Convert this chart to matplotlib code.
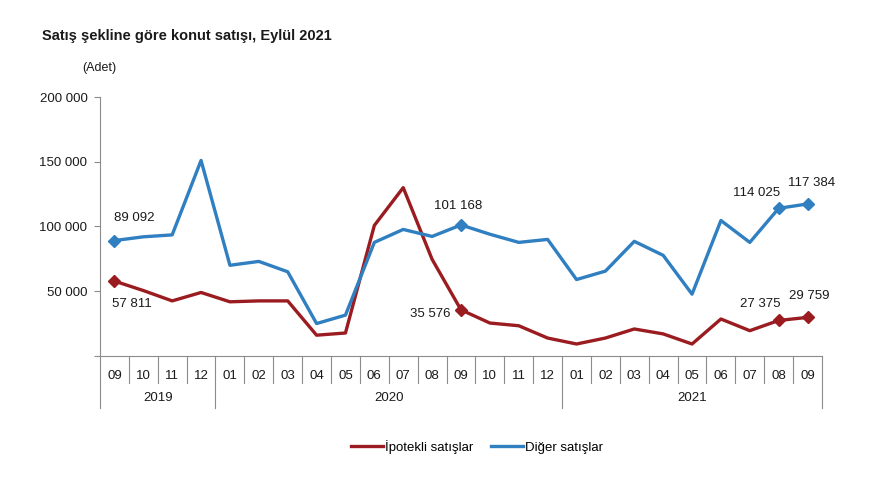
import matplotlib.pyplot as plt
import matplotlib.transforms as mtransforms

plt.rcParams["font.family"] = ["Liberation Sans", "DejaVu Sans"]

# data
months = ["09", "10", "11", "12",
          "01", "02", "03", "04", "05", "06", "07", "08", "09", "10", "11", "12",
          "01", "02", "03", "04", "05", "06", "07", "08", "09"]
years = ["2019", "2020", "2021"]
year_counts = [4, 12, 9]

ipotekli = [57811, 50500, 42500, 49000, 41800, 42500, 42500, 16000, 17700,
            100800, 130000, 74600, 35576, 25400, 23300, 13800, 9200, 13800,
            20800, 17000, 9200, 28500, 19500, 27375, 29759]
diger = [89092, 92000, 93500, 151000, 70000, 73000, 65000, 25000, 31500,
         87700, 97700, 92300, 101168, 94000, 87700, 90000, 59000, 65500,
         88500, 77700, 47700, 104600, 87700, 114025, 117384]

labeled = [0, 12, 23, 24]
red_offsets = {0: (17, -23), 12: (-31, -4), 23: (-18, 16), 24: (2, 21)}
blue_offsets = {0: (20, 23), 12: (-3, 19), 23: (-22, 15), 24: (4, 21)}

red = "#9b1c20"
blue = "#2f7fc1"
grey = "#8c8c8c"
txt = "#1a1a1a"

fig = plt.figure(figsize=(8.8, 4.95), dpi=100)
ax = fig.add_axes([0.1136, 0.281, 0.8205, 0.523])

x = list(range(len(months)))

ax.plot(x, ipotekli, color=red, lw=2.4, label="İpotekli satışlar")
ax.plot(x, diger, color=blue, lw=2.4, label="Diğer satışlar")

ax.plot([x[i] for i in labeled], [ipotekli[i] for i in labeled],
        ls="none", marker="D", ms=6, color=red)
ax.plot([x[i] for i in labeled], [diger[i] for i in labeled],
        ls="none", marker="D", ms=6, color=blue)

for i in labeled:
    ax.annotate(f"{ipotekli[i]:,}".replace(",", " "), (x[i], ipotekli[i]),
                xytext=red_offsets[i], textcoords="offset pixels",
                ha="center", va="center", fontsize=9.5, color=txt)
    ax.annotate(f"{diger[i]:,}".replace(",", " "), (x[i], diger[i]),
                xytext=blue_offsets[i], textcoords="offset pixels",
                ha="center", va="center", fontsize=9.5, color=txt)

ax.set_xlim(-0.5, len(months) - 0.5)
ax.set_ylim(0, 200000)
ax.set_yticks([0, 50000, 100000, 150000, 200000])
ax.set_yticklabels(["", "50 000", "100 000", "150 000", "200 000"])
ax.tick_params(axis="y", length=4, color=grey, labelsize=9.5, pad=5,
               labelcolor=txt)
ax.set_xticks([])

for s in ["top", "right"]:
    ax.spines[s].set_visible(False)
ax.spines["left"].set_color(grey)
ax.spines["bottom"].set_color(grey)

# hierarchical x axis
trans = mtransforms.blended_transform_factory(ax.transData, ax.transAxes)
for i, m in enumerate(months):
    ax.text(i, -0.077, m, transform=trans, ha="center", va="center",
            fontsize=9.5, color=txt)

boundaries = [-0.5]
for c in year_counts:
    boundaries.append(boundaries[-1] + c)

for b in range(len(months) + 1):
    xb = b - 0.5
    low = -0.20 if xb in boundaries else -0.104
    ax.plot([xb, xb], [0, low], transform=trans, color=grey, lw=0.8,
            clip_on=False)

for j, y in enumerate(years):
    mid = (boundaries[j] + boundaries[j + 1]) / 2
    ax.text(mid, -0.162, y, transform=trans, ha="center", va="center",
            fontsize=9.5, color=txt)

fig.text(0.048, 0.927, "Satış şekline göre konut satışı, Eylül 2021",
         fontsize=10.5, fontweight="bold", va="center", color=txt)
fig.text(0.094, 0.862, "(Adet)", fontsize=9, va="center", color=txt)

fig.legend(loc="center", bbox_to_anchor=(0.542, 0.097), ncol=2, frameon=False,
           fontsize=9.5, handlelength=2.4, handletextpad=0.15,
           columnspacing=1.4)

fig.savefig("out.png", dpi=100)
